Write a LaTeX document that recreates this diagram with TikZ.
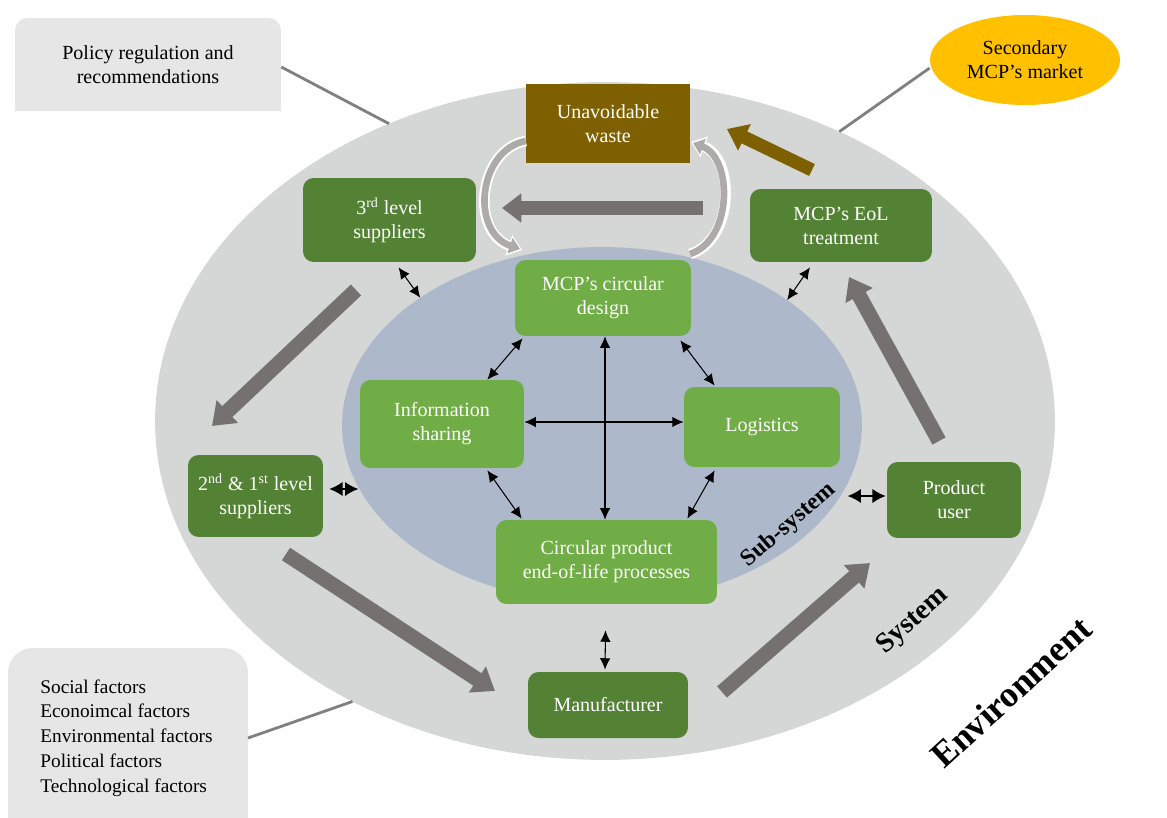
\documentclass[tikz,border=0pt]{standalone}
\usepackage{fontspec}
\setmainfont{Liberation Serif}
\usetikzlibrary{shapes.geometric,arrows.meta,calc}
\definecolor{sysgray}{HTML}{D5D6D6}
\definecolor{subblue}{HTML}{ADB9CA}
\definecolor{dkgreen}{HTML}{548235}
\definecolor{ltgreen}{HTML}{70AD47}
\definecolor{arrgray}{HTML}{767171}
\definecolor{brownw}{HTML}{7F6000}
\definecolor{boxgray}{HTML}{E7E6E6}
\definecolor{gold}{HTML}{FFC000}
\definecolor{linegray}{HTML}{808080}
\definecolor{curvegray}{HTML}{AEAAAA}
\tikzset{
  txt/.style={font=\fontsize{11.4}{13.6}\selectfont, align=center},
  dkbox/.style={txt, fill=dkgreen, text=white, rounded corners=6pt, inner sep=2pt},
  ltbox/.style={txt, fill=ltgreen, text=white, rounded corners=6pt, inner sep=2pt},
  bigarrow/.style={draw=arrgray, line width=8.5pt, -{Triangle[length=12pt,width=17pt]}},
  dblarrow/.style={draw=black, line width=0.6pt, {Latex[length=6.5pt,width=6pt]}-{Latex[length=6.5pt,width=6pt]}},
  dblbig/.style={draw=black, line width=0.8pt, {Latex[length=7.5pt,width=8pt]}-{Latex[length=7.5pt,width=8pt]}},
  connline/.style={draw=linegray, line width=1.6pt},
}
\begin{document}
\begin{tikzpicture}[x=0.02cm,y=-0.02cm]
\useasboundingbox (0,0) rectangle (1167,818);
% system ellipse and subsystem
\node[ellipse, fill=sysgray, inner sep=0, outer sep=0, minimum width=18cm, minimum height=13.56cm] (system) at (605,421) {};
\node[ellipse, fill=subblue, inner sep=0, outer sep=0, minimum width=10.4cm, minimum height=7.12cm] (subsys) at (602,425) {};
% environment boxes
\fill[boxgray] (15,64) rectangle (281,111);
\node[txt, fill=boxgray, rounded corners=7pt, minimum width=5.32cm, minimum height=1.86cm] (policy) at (148,64.5) {Policy regulation and\\recommendations};
\node[ellipse, fill=gold, inner sep=0, minimum width=3.8cm, minimum height=1.8cm, txt] (market) at (1025,60) {Secondary\\MCP's market};
\fill[boxgray, rounded corners=14pt] (8,648) rectangle (248,850);
\node[anchor=west, align=left, font=\fontsize{11}{14.1}\selectfont, inner sep=0] (factors) at (40,738) {Social factors\\Econoimcal factors\\Environmental factors\\Political factors\\Technological factors};
% connector lines
\draw[connline] (policy.east |- 0,67) -- (system.126.8);
\draw[connline] (market.west |- 0,68) -- (system.51);
\draw[connline] (248,738) -- (system.228.3);
% boxes
\node[txt, fill=brownw, text=white, inner sep=0, minimum width=3.28cm, minimum height=1.58cm] (waste) at (608,123.5) {Unavoidable\\waste};
\node[dkbox, minimum width=3.46cm, minimum height=1.68cm] (s3) at (389.5,220) {3\textsuperscript{rd} level\\suppliers};
\node[dkbox, minimum width=3.64cm, minimum height=1.46cm] (eol) at (841,225.5) {MCP's EoL\\treatment};
\node[ltbox, minimum width=3.52cm, minimum height=1.52cm] (design) at (603,298) {MCP's circular\\design};
\node[ltbox, minimum width=3.28cm, minimum height=1.76cm] (info) at (442,424) {Information\\sharing};
\node[ltbox, minimum width=3.12cm, minimum height=1.6cm] (logi) at (762,427) {Logistics};
\node[ltbox, minimum width=4.42cm, minimum height=1.68cm] (cpeol) at (606.5,562) {Circular product\\end-of-life processes};
\node[dkbox, minimum width=2.7cm, minimum height=1.64cm] (s21) at (255.5,496) {2\textsuperscript{nd} \& 1\textsuperscript{st} level\\suppliers};
\node[dkbox, minimum width=2.68cm, minimum height=1.52cm] (user) at (954,500) {Product\\user};
\node[dkbox, minimum width=3.2cm, minimum height=1.32cm] (manu) at (608,705) {Manufacturer};
% curved arrows
\draw[white, line width=6pt, -{Triangle[length=8pt,width=12pt]}] (waste.west |- 0,141) .. controls (478,150) and (470,232) .. (522,250);
\draw[curvegray, line width=3.8pt, -{Triangle[length=6pt,width=9pt]}] (waste.west |- 0,141) .. controls (478,150) and (470,232) .. (520,249);
\draw[white, line width=6pt, -{Triangle[length=8pt,width=12pt]}] (690,254) .. controls (735,240) and (735,158) .. (691,142);
\draw[curvegray, line width=3.8pt, -{Triangle[length=6pt,width=9pt]}] (690,254) .. controls (733,240) and (733,158) .. (693,143);
% big arrows
\coordinate (h1) at (703,208); \coordinate (h2) at (502,208);
\draw[arrgray, line width=7.5pt, -{Triangle[length=11pt,width=16pt]}] (h1) -- (h2);
\coordinate (a1) at (356,290); \coordinate (a2) at (212,426);
\draw[bigarrow] (a1) -- (a2);
\coordinate (b1) at (286,554); \coordinate (b2) at (495,691);
\draw[bigarrow] (b1) -- (b2);
\coordinate (c1) at (722,692); \coordinate (c2) at (870,563);
\draw[bigarrow] (c1) -- (c2);
\coordinate (d1) at (939,441); \coordinate (d2) at (849,277);
\draw[bigarrow] (d1) -- (d2);
\coordinate (e1) at (812,170); \coordinate (e2) at (727,129);
\draw[brownw, line width=7.5pt, -{Triangle[length=11pt,width=16pt]}] (e1) -- (e2);
% small double arrows
\draw[dblarrow] ($(s3.south)+(9,5)$) -- (subsys.145.8);
\draw[dblarrow] ($(eol.south)+(-31,5)$) -- (subsys.34.8);
\draw[dblarrow] ($(design.south west)+(8,2)$) -- ($(info.north east)+(-37,0)$);
\draw[dblarrow] ($(design.south east)+(-11,4)$) -- ($(logi.north west)+(31,-1)$);
\draw[dblarrow] (info.east |- 0,422) -- (logi.west |- 0,422);
\draw[dblarrow] (design.south -| 605,0) -- (cpeol.north -| 605,0);
\draw[dblarrow] ($(info.south east)+(-37,2)$) -- ($(cpeol.north west)+(26,-1)$);
\draw[dblarrow] ($(logi.south west)+(31,3)$) -- ($(cpeol.north east)+(-30,-1)$);
\draw[dblbig] ($(s21.east)+(6,-7)$) -- ($(s21.east)+(35,-7)$);
\draw[dblbig] ($(user.west)+(-39,-4)$) -- ($(user.west)+(-1,-4)$);
\draw[dblarrow] ($(cpeol.south)+(-1,26)$) -- ($(manu.north)+(-3,-2)$);
% rotated labels
\node[font=\bfseries\fontsize{13.5}{16}\selectfont, rotate=41] (sublabel) at (789,525) {Sub-system};
\node[font=\bfseries\fontsize{16}{19}\selectfont, rotate=41.5] (syslabel) at (913,621) {System};
\node[font=\bfseries\fontsize{20.5}{24}\selectfont, rotate=42.5] (envlabel) at (1011,692) {Environment};
\end{tikzpicture}
\end{document}
